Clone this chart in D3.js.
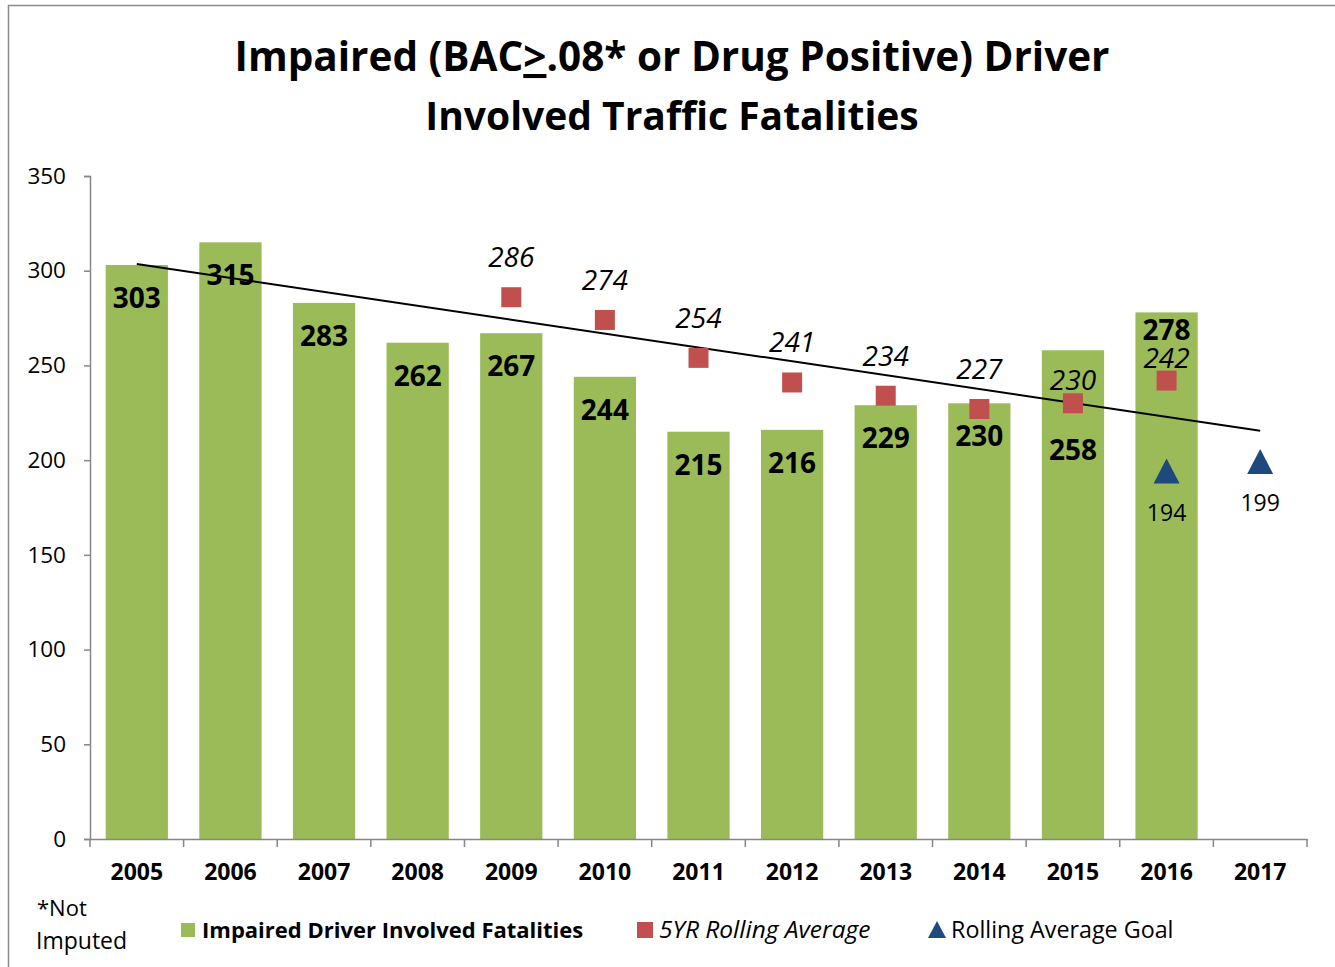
<!DOCTYPE html>
<html>
<head>
<meta charset="utf-8">
<script src="https://cdn.jsdelivr.net/npm/d3@7"></script>
<style>
  body { margin: 0; background: #fff; }
  svg { display: block; font-family: "Open Sans", sans-serif; }
</style>
</head>
<body>
<svg id="chart" width="1335" height="967"></svg>
<script>
// data
const years = ['2005', '2006', '2007', '2008', '2009', '2010', '2011', '2012', '2013', '2014', '2015', '2016', '2017'];
const fatalities = [303, 315, 283, 262, 267, 244, 215, 216, 229, 230, 258, 278, null];
const rollingAvg = [null, null, null, null, 286, 274, 254, 241, 234, 227, 230, 242, null];
const goal = [null, null, null, null, null, null, null, null, null, null, null, 194, 199];
const trendYears = ['2005', '2017'];
const trendValues = [303.5, 215.5];
const yTicks = [0, 50, 100, 150, 200, 250, 300, 350];

const svg = d3.select('#chart');
const margin = {top: 176, right: 28, bottom: 128, left: 90};
const width = 1335 - margin.left - margin.right;
const height = 967 - margin.top - margin.bottom;

// outer frame
svg.append('rect')
    .attr('x', 8.5).attr('y', 5.5)
    .attr('width', 1340).attr('height', 980)
    .attr('fill', 'none')
    .attr('stroke', '#8c8c8c')
    .attr('stroke-width', 1.5);

// title
const title = svg.append('text')
    .attr('text-anchor', 'middle')
    .attr('font-weight', 'bold')
    .attr('fill', '#000');
const line1 = title.append('tspan').attr('font-size', 40.5);
line1.append('tspan').attr('x', 672).attr('y', 71).text('Impaired (BAC');
line1.append('tspan').attr('text-decoration', 'underline').text('>');
line1.append('tspan').text('.08* or Drug Positive) Driver');
title.append('tspan').attr('font-size', 39).attr('x', 672).attr('y', 130).text('Involved Traffic Fatalities');

const g = svg.append('g').attr('transform', `translate(${margin.left},${margin.top})`);

const x = d3.scaleBand().domain(years).range([0, width]).paddingInner(0.335).paddingOuter(0.1675);
const y = d3.scaleLinear().domain([0, 350]).range([height, 0]);
const xc = d => x(d) + x.bandwidth() / 2;

// bars
g.selectAll('rect.bar')
    .data(years.map((yr, i) => ({yr, v: fatalities[i]})).filter(d => d.v != null))
    .enter().append('rect')
    .attr('class', 'bar')
    .attr('x', d => x(d.yr))
    .attr('y', d => y(d.v))
    .attr('width', x.bandwidth())
    .attr('height', d => height - y(d.v))
    .attr('fill', '#9bbb59');

// axes
const yAxis = g.append('g').call(d3.axisLeft(y).tickValues(yTicks).tickSize(6).tickPadding(18));
const xAxis = g.append('g').attr('transform', `translate(0,${height})`)
    .call(d3.axisBottom(x).tickSize(0).tickPadding(25));
[yAxis, xAxis].forEach(a => {
    a.select('.domain').attr('stroke', '#868686').attr('stroke-width', 1.5);
    a.selectAll('.tick line').attr('stroke', '#868686').attr('stroke-width', 1.5);
    a.selectAll('text').attr('fill', '#000').attr('font-family', '"Open Sans", sans-serif');
});
yAxis.selectAll('text').attr('font-size', 22.5);
xAxis.selectAll('text').attr('font-size', 23).attr('font-weight', 'bold');
// x ticks at category boundaries
xAxis.selectAll('line.bound')
    .data(d3.range(years.length + 1))
    .enter().append('line')
    .attr('class', 'bound')
    .attr('x1', i => i * x.step()).attr('x2', i => i * x.step())
    .attr('y1', 0).attr('y2', 8)
    .attr('stroke', '#868686').attr('stroke-width', 1.5);

// trend line
const trend = d3.line().x(d => xc(d[0])).y(d => y(d[1]));
g.append('path')
    .datum(trendYears.map((yr, i) => [yr, trendValues[i]]))
    .attr('d', trend)
    .attr('fill', 'none')
    .attr('stroke', '#000')
    .attr('stroke-width', 2);

// bar labels (a few nudged to avoid the markers, as in the original)
const barLabelShift = {'2015': 110, '2016': 28};
g.selectAll('text.barlab')
    .data(years.map((yr, i) => ({yr, v: fatalities[i]})).filter(d => d.v != null))
    .enter().append('text')
    .attr('x', d => xc(d.yr))
    .attr('y', d => y(d.v) + (barLabelShift[d.yr] || 43))
    .attr('text-anchor', 'middle')
    .attr('font-size', 28)
    .attr('font-weight', 'bold')
    .text(d => d.v);

// rolling average squares
const avgData = years.map((yr, i) => ({yr, v: rollingAvg[i]})).filter(d => d.v != null);
g.selectAll('rect.avg')
    .data(avgData)
    .enter().append('rect')
    .attr('x', d => xc(d.yr) - 10)
    .attr('y', d => y(d.v) - 10)
    .attr('width', 20).attr('height', 20)
    .attr('fill', '#c0504d');
const avgLabelShift = {'2015': -13, '2016': -13};
g.selectAll('text.avglab')
    .data(avgData)
    .enter().append('text')
    .attr('x', d => xc(d.yr))
    .attr('y', d => y(d.v) + (avgLabelShift[d.yr] || -30))
    .attr('text-anchor', 'middle')
    .attr('font-size', 28)
    .attr('font-style', 'italic')
    .text(d => d.v);

// goal triangles
const goalData = years.map((yr, i) => ({yr, v: goal[i]})).filter(d => d.v != null);
g.selectAll('path.goal')
    .data(goalData)
    .enter().append('path')
    .attr('transform', d => `translate(${xc(d.yr)},${y(d.v)})`)
    .attr('d', 'M0,-13L13,12L-13,12Z')
    .attr('fill', '#1f497d');
g.selectAll('text.goallab')
    .data(goalData)
    .enter().append('text')
    .attr('x', d => xc(d.yr))
    .attr('y', d => y(d.v) + 49)
    .attr('text-anchor', 'middle')
    .attr('font-size', 23)
    .text(d => d.v);

// footnote
svg.append('text').attr('x', 37).attr('y', 916).attr('font-size', 22).text('*Not');
svg.append('text').attr('x', 36).attr('y', 949).attr('font-size', 23).text('Imputed');

// legend
const leg = svg.append('g').attr('font-size', 22);
leg.append('rect').attr('x', 181).attr('y', 923).attr('width', 14).attr('height', 14).attr('fill', '#9bbb59');
leg.append('text').attr('x', 202).attr('y', 938).attr('font-weight', 'bold').text('Impaired Driver Involved Fatalities');
leg.append('rect').attr('x', 637).attr('y', 922).attr('width', 16).attr('height', 16).attr('fill', '#c0504d');
leg.append('text').attr('x', 659).attr('y', 938).attr('font-style', 'italic').attr('font-size', 24.5).text('5YR Rolling Average');
leg.append('path').attr('d', 'M937,921L946,938L928,938Z').attr('fill', '#1f497d');
leg.append('text').attr('x', 951).attr('y', 938).attr('font-size', 23.3).text('Rolling Average Goal');
</script>
</body>
</html>
